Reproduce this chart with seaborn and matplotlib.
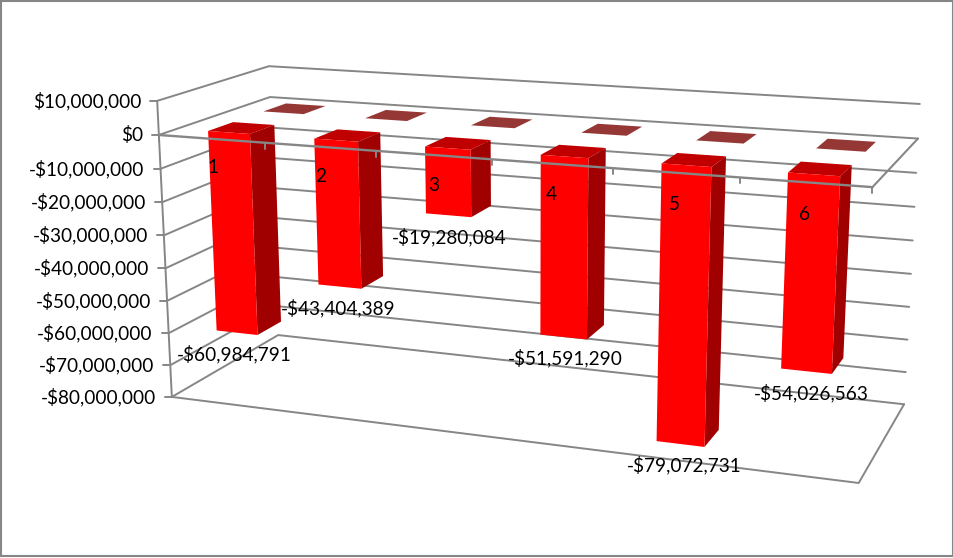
"""
Excel style 3-D column chart, rebuilt with a seaborn barplot pushed through a
perspective transform.
"""

import numpy as np
import pandas as pd
import matplotlib
matplotlib.use("Agg")
import matplotlib.pyplot as plt
from matplotlib.patches import Rectangle
from matplotlib.transforms import Transform
import seaborn as sns

# ---------------------------------------------------------------------------
# Data
# ---------------------------------------------------------------------------

CATEGORIES = ["1", "2", "3", "4", "5", "6"]
FRONT_VALUES = [-60984791, -43404389, -19280084, -51591290, -79072731, -54026563]
BACK_VALUES = [0, 0, 0, 0, 0, 0]
VALUE_TICKS = [10000000, 0, -10000000, -20000000, -30000000,
               -40000000, -50000000, -60000000, -70000000, -80000000]

# ---------------------------------------------------------------------------
# Camera: box corners (u, value, depth) and where they land on screen (px)
# ---------------------------------------------------------------------------

V_MAX, V_MIN = 10000000, -80000000
CORNERS_3D = [
    (0, V_MAX, 0), (0, 0, 0), (0, V_MIN, 0),
    (0, V_MAX, 1), (0, 0, 1), (0, V_MIN, 1),
    (1, V_MAX, 1), (1, 0, 1), (1, V_MIN, 1),
    (1, 0, 0), (1, V_MIN, 0),
]
CORNERS_PX = [
    (157, 100), (159, 135), (172, 397),
    (270, 66), (269, 98), (278, 335),
    (920, 103), (918, 139), (904, 404),
    (872, 188), (859, 483),
]

GRID = "#868686"
FRONT = "#ff0000"
SIDE = "#a00000"
TOP = "#c00000"
FLAT = "#953735"
BAR_DEPTH = 0.22
FRONT_ROW, BACK_ROW = 0.15, 0.65
FONT_SIZE = 13.7


def fit_camera(points, pixels):
    rows = []
    for (u, v, w), (px, py) in zip(points, pixels):
        p = [u, v / 8e7, w, 1.0]
        rows.append(p + [0, 0, 0, 0] + [-px * c for c in p])
        rows.append([0, 0, 0, 0] + p + [-py * c for c in p])
    _, _, vt = np.linalg.svd(np.array(rows))
    return vt[-1].reshape(3, 4)


CAMERA = fit_camera(CORNERS_3D, CORNERS_PX)


def project(x, value, depth):
    """Category position, dollar value and depth to screen pixels."""
    x, value, depth = np.broadcast_arrays(
        np.asarray(x, float), np.asarray(value, float), np.asarray(depth, float))
    p = np.stack([(x + 0.5) / 6, value / 8e7, depth, np.ones_like(x)])
    sx, sy, sw = np.tensordot(CAMERA, p, axes=1)
    return sx / sw, sy / sw


class DepthPlane(Transform):
    """Maps (category, value) on a plane of constant depth to pixels."""
    input_dims = 2
    output_dims = 2
    is_separable = False

    def __init__(self, plane_depth):
        super().__init__()
        self.plane_depth = plane_depth

    def transform_non_affine(self, values):
        values = np.asarray(values)
        return np.column_stack(project(values[:, 0], values[:, 1], self.plane_depth))


def money(value):
    sign = "-" if value < 0 else ""
    return f"{sign}${abs(value):,}"


def line3d(ax, points, lw=1.0, zorder=1):
    xs, ys = zip(*[project(*p) for p in points])
    ax.plot(xs, ys, color=GRID, lw=lw, zorder=zorder, solid_capstyle="round")


def draw_walls(ax):
    for tick in VALUE_TICKS:
        line3d(ax, [(-0.5, tick, 0), (-0.5, tick, 1), (5.5, tick, 1)], lw=1.4)
    # floor and the zero plane
    line3d(ax, [(-0.5, V_MIN, 0), (5.5, V_MIN, 0), (5.5, V_MIN, 1)], lw=1.4)
    line3d(ax, [(5.5, 0, 1), (5.5, 0, 0)], lw=1.5, zorder=4)
    line3d(ax, [(-0.5, 0, 0), (5.5, 0, 0)], lw=1.7, zorder=4)
    line3d(ax, [(-0.5, V_MAX, 0), (-0.5, V_MIN, 0)], lw=1.4)

    for tick in VALUE_TICKS:
        x, y = project(-0.5, tick, 0)
        ax.plot([x - 7, x], [y, y], color=GRID, lw=1.4, zorder=1)
        ax.text(x - 16, y, money(tick), ha="right", va="center",
                fontsize=FONT_SIZE, color="black", zorder=5)
    # category ticks sit on top of the columns
    for i in range(7):
        x, y = project(i - 0.5, 0, 0)
        ax.plot([x, x], [y + 1, y + 6], color=GRID, lw=1.4, zorder=4)


def draw_columns(ax, values):
    df = pd.DataFrame({"category": CATEGORIES, "value": values})
    sns.barplot(data=df, x="category", y="value", color=FRONT, saturation=1,
                width=0.4, linewidth=0, ax=ax)

    near, far = FRONT_ROW, FRONT_ROW + BAR_DEPTH
    bars = list(ax.patches)
    for i, (patch, value, name) in enumerate(zip(bars, values, CATEGORIES)):
        patch.set_transform(DepthPlane(near) + ax.transData)
        patch.set_zorder(3)
        x0, x1 = patch.get_x(), patch.get_x() + patch.get_width()
        top = [(x0, 0, near), (x1, 0, near), (x1, 0, far), (x0, 0, far)]
        side = [(x1, 0, near), (x1, value, near), (x1, value, far), (x1, 0, far)]
        for face, colour in ((top, TOP), (side, SIDE)):
            xs, ys = zip(*[project(*p) for p in face])
            ax.fill(xs, ys, color=colour, lw=0, zorder=2)

        # value label under the bar, category label just below the zero edge
        mid = (x0 + x1) / 2
        ax.annotate(money(value), project(mid, value, near),
                    xytext=(-2.0 + 1.1 * i, -15.5),
                    textcoords="offset points", ha="center", va="center",
                    fontsize=FONT_SIZE, color="black", zorder=5)
        ax.annotate(name, project(mid, -8500000, 0),
                    ha="center", va="center",
                    fontsize=FONT_SIZE, color="black", zorder=5)


def draw_back_row(ax, values):
    half = 0.2
    near, far = BACK_ROW, BACK_ROW + BAR_DEPTH
    for i, value in enumerate(values):
        face = [(i - half, value, near), (i + half, value, near),
                (i + half, value, far), (i - half, value, far)]
        xs, ys = zip(*[project(*p) for p in face])
        ax.fill(xs, ys, color=FLAT, lw=0, zorder=2)


if __name__ == "__main__":
    sns.set_theme(style="white")
    plt.rcParams["font.family"] = ["Lato", "DejaVu Sans"]

    fig = plt.figure(figsize=(9.54, 5.58), dpi=100, facecolor="white")
    ax = fig.add_axes([0, 0, 1, 1])

    draw_columns(ax, FRONT_VALUES)
    draw_back_row(ax, BACK_VALUES)
    draw_walls(ax)

    ax.set_xlim(0, 954)
    ax.set_ylim(558, 0)
    ax.set_axis_off()
    ax.add_patch(Rectangle((1, 1), 952, 555, fill=False, ec=GRID, lw=1.5, zorder=6))

    fig.savefig("out.png", dpi=100)
    plt.close(fig)
